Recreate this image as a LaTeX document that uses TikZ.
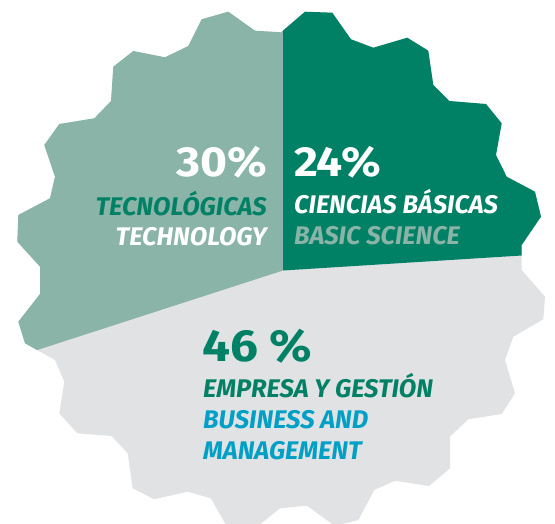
\documentclass[tikz,border=0pt]{standalone}
\usepackage{fontspec}
\setmainfont{Fira Sans}
\newfontfamily\pctfont[FakeStretch=1.1]{Fira Sans}
\definecolor{sage}{RGB}{137,180,167}
\definecolor{dkgreen}{RGB}{0,129,101}
\definecolor{lgrey}{RGB}{225,226,228}
\definecolor{cblue}{RGB}{0,160,198}
\begin{document}
\begin{tikzpicture}[x=1pt,y=-1pt,
  lbl/.style={font=\fontsize{25.5}{25.5}\selectfont\bfseries\itshape, inner sep=0pt},
  pct/.style={font=\pctfont\fontsize{42}{42}\selectfont\bfseries, inner sep=0pt}]
\clip (0,0) rectangle (555,524);
\coordinate (C) at (283,270.5);
\begin{scope}
\clip (281,32.3) -- (305,11.7) -- (332.3,12.7) -- (351,39.3) -- (373.3,47.7)
 -- (407.3,37.7) -- (428.3,50.7) -- (433.3,85) -- (449.3,101) -- (486,104)
 -- (501.7,123.3) -- (496,155) -- (506.7,176.7) -- (535,191.7) -- (541,216.7)
 -- (521.7,245) -- (521.7,270) -- (545,296.7) -- (543.3,319.3) -- (513.3,336.7)
 -- (505,360) -- (515,393.3) -- (501.7,414) -- (468.3,419.3) -- (450,436.7)
 -- (450,468.3) -- (429,486) -- (395,480.7) -- (374.3,490) -- (358.3,520)
 -- (335,526) -- (306.7,505.7) -- (280,508.3) -- (258,526) -- (226.7,526)
 -- (210.7,498.3) -- (187.7,491.7) -- (154,499.3) -- (132.7,488.3) -- (127.7,453.3)
 -- (111.7,436) -- (77.3,433.3) -- (59.3,413.3) -- (64.3,381.7) -- (55,360)
 -- (25,343.3) -- (18.3,321.7) -- (40,294) -- (40,266.7) -- (17.3,241.7)
 -- (18.3,215) -- (50,198.3) -- (55,176.7) -- (44.3,145) -- (59.3,124)
 -- (94.3,118.3) -- (111,101) -- (113.3,66.7) -- (133.3,51) -- (165,57.3)
 -- (188.3,46) -- (201.7,19.3) -- (228.3,11.7) -- (255,30.7) -- cycle;
\fill[lgrey] (0,0) rectangle (555,524);
\fill[sage] (C) -- (283,-100) -- (-100,-100) -- (-100,394.4) -- cycle;
\fill[dkgreen] (C) -- (283,-100) -- (700,-100) -- (700,244.3) -- cycle;
\end{scope}
\node[pct, white, anchor=base east] (p30) at (267,177) {30\%};
\node[lbl, dkgreen, anchor=base east] (tec) at (267,215.5) {TECNOLÓGICAS};
\node[lbl, white, anchor=base east] (tech) at (267,245.5) {TECHNOLOGY};
\node[pct, white, anchor=base west] (p24) at (294,177) {24\%};
\node[lbl, white, anchor=base west] (cb) at (294,214) {CIENCIAS BÁSICAS};
\node[lbl, sage, anchor=base west] (bs) at (294,245) {BASIC SCIENCE};
\node[pct, dkgreen, anchor=base west, font=\pctfont\fontsize{45}{45}\selectfont\bfseries] (p46) at (202,361) {46 \%};
\node[lbl, dkgreen, anchor=base west] (eg) at (203,397) {EMPRESA Y GESTIÓN};
\node[lbl, cblue, anchor=base west] (ba) at (203,428.5) {BUSINESS AND};
\node[lbl, cblue, anchor=base west] (mg) at (203,459.5) {MANAGEMENT};
\end{tikzpicture}
\end{document}
